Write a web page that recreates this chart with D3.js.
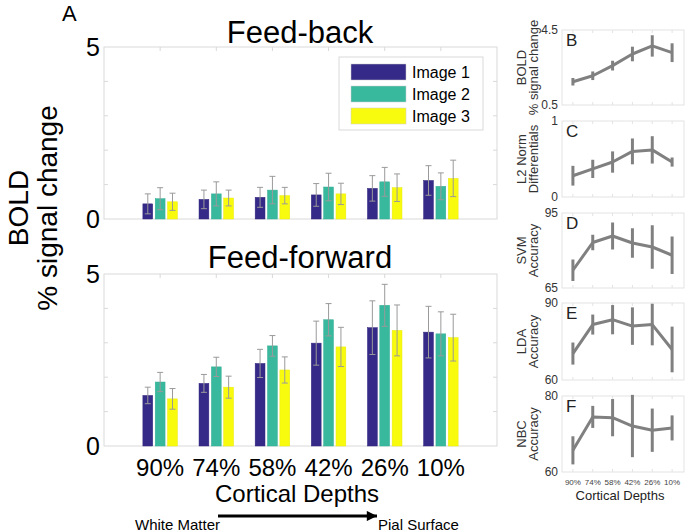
<!DOCTYPE html>
<html>
<head>
<meta charset="utf-8">
<script src="https://cdn.jsdelivr.net/npm/d3@7"></script>
<style>
  body { margin: 0; background: #fff; }
  svg { display: block; font-family: "Liberation Sans", Arial, sans-serif; }
</style>
</head>
<body>
<svg id="chart" width="685" height="532"></svg>
<script>
const depths = ['90%', '74%', '58%', '42%', '26%', '10%'];
const images = ['Image 1', 'Image 2', 'Image 3'];
const colors = ['#352a87', '#38b99e', '#f9fb0e'];

// feed-back means / sem, one row per image
const fbMean = [
    [0.44, 0.57, 0.63, 0.70, 0.89, 1.12],
    [0.59, 0.73, 0.84, 0.93, 1.08, 0.95],
    [0.50, 0.61, 0.68, 0.73, 0.91, 1.18]
];
const fbErr = [
    [0.29, 0.27, 0.29, 0.33, 0.37, 0.43],
    [0.32, 0.35, 0.40, 0.40, 0.42, 0.39],
    [0.25, 0.23, 0.24, 0.31, 0.40, 0.53]
];
const ffMean = [
    [1.47, 1.82, 2.40, 2.99, 3.44, 3.31],
    [1.86, 2.30, 2.91, 3.67, 4.09, 3.26],
    [1.37, 1.71, 2.21, 2.88, 3.36, 3.15]
];
const ffErr = [
    [0.24, 0.26, 0.41, 0.64, 0.78, 0.75],
    [0.28, 0.28, 0.30, 0.47, 0.61, 0.64],
    [0.30, 0.32, 0.38, 0.57, 0.74, 0.68]
];

// small panels on the right
const boldMean = [1.74, 2.06, 2.60, 3.22, 3.65, 3.29];
const boldErr = [0.20, 0.23, 0.26, 0.39, 0.57, 0.50];
const l2Mean = [0.28, 0.37, 0.46, 0.60, 0.62, 0.46];
const l2Err = [0.13, 0.12, 0.14, 0.17, 0.18, 0.06];
const svmMean = [72.1, 83.2, 85.8, 83.0, 81.4, 78.1];
const svmErr = [4.3, 3.1, 5.4, 5.9, 8.7, 7.5];
const ldaMean = [70.3, 81.6, 83.5, 81.0, 81.6, 71.9];
const ldaErr = [4.3, 3.9, 5.7, 7.3, 8.1, 8.9];
const nbcMean = [65.7, 74.5, 74.3, 72.1, 71.0, 71.6];
const nbcErr = [3.7, 2.9, 4.9, 8.2, 5.7, 3.3];

const svg = d3.select('#chart');
const boxColor = '#d9d9d9';

// ---- left bar panels ----
const x = d3.scaleLinear().domain([0, 7]).range([104, 497]);
const barW = 0.175, barOff = 0.22;

function barPanel(top, bottom, means, errs, title, titleY) {
    const y = d3.scaleLinear().domain([0, 5]).range([bottom, top]);
    const g = svg.append('g');

    g.append('rect')
        .attr('x', x(0)).attr('y', top)
        .attr('width', x(7) - x(0)).attr('height', bottom - top)
        .attr('fill', 'none').attr('stroke', boxColor);

    const yt = d3.range(1, 5);
    g.selectAll('.ytl').data(yt).enter().append('line')
        .attr('x1', x(0)).attr('x2', x(0) + 4)
        .attr('y1', d => y(d)).attr('y2', d => y(d))
        .attr('stroke', boxColor);
    g.selectAll('.ytr').data(yt).enter().append('line')
        .attr('x1', x(7)).attr('x2', x(7) - 4)
        .attr('y1', d => y(d)).attr('y2', d => y(d))
        .attr('stroke', boxColor);
    const xt = d3.range(1, 7);
    g.selectAll('.xtt').data(xt).enter().append('line')
        .attr('x1', d => x(d)).attr('x2', d => x(d))
        .attr('y1', top).attr('y2', top + 4)
        .attr('stroke', boxColor);

    g.selectAll('.ylab').data([0, 5]).enter().append('text')
        .attr('x', 100).attr('y', d => y(d))
        .attr('dy', '0.36em')
        .attr('text-anchor', 'end')
        .attr('font-size', 25)
        .text(d => d);

    means.forEach((row, s) => {
        const gs = g.append('g');
        gs.selectAll('rect').data(row).enter().append('rect')
            .attr('x', (d, i) => x(i + 1 + (s - 1) * barOff - barW / 2))
            .attr('width', x(barW) - x(0))
            .attr('y', d => y(d))
            .attr('height', d => y(0) - y(d))
            .attr('fill', colors[s])
            .attr('stroke', d3.color(colors[s]).darker(0.2))
            .attr('stroke-width', 0.5);
        const cx = i => x(i + 1 + (s - 1) * barOff);
        gs.selectAll('.eb').data(row).enter().append('path')
            .attr('d', (d, i) => {
                const e = errs[s][i], c = cx(i);
                return `M${c},${y(d - e)}V${y(d + e)}M${c - 3},${y(d - e)}H${c + 3}M${c - 3},${y(d + e)}H${c + 3}`;
            })
            .attr('fill', 'none').attr('stroke', '#9a9a9a').attr('stroke-width', 1);
    });

    g.append('text')
        .attr('x', 300).attr('y', titleY)
        .attr('text-anchor', 'middle')
        .attr('font-size', 31)
        .text(title);
    return y;
}

barPanel(47, 219, fbMean, fbErr, 'Feed-back', 43);
barPanel(274, 446, ffMean, ffErr, 'Feed-forward', 268);

// legend
const leg = svg.append('g');
leg.append('rect')
    .attr('x', 339).attr('y', 57).attr('width', 144).attr('height', 73)
    .attr('fill', '#fff').attr('stroke', boxColor);
images.forEach((name, i) => {
    leg.append('rect')
        .attr('x', 351).attr('y', 64 + i * 22).attr('width', 55).attr('height', 16)
        .attr('fill', colors[i]).attr('stroke', '#ccc').attr('stroke-width', 0.5);
    leg.append('text')
        .attr('x', 412).attr('y', 72 + i * 22).attr('dy', '0.36em')
        .attr('font-size', 16)
        .text(name);
});

// x tick labels + axis title
svg.append('g').selectAll('text').data(depths).enter().append('text')
    .attr('x', (d, i) => x(i + 1)).attr('y', 476)
    .attr('text-anchor', 'middle').attr('font-size', 24)
    .text(d => d);
svg.append('text')
    .attr('x', 297).attr('y', 502)
    .attr('text-anchor', 'middle').attr('font-size', 24)
    .text('Cortical Depths');

// y axis title
const yt = svg.append('text')
    .attr('transform', 'translate(32,208) rotate(-90)')
    .attr('text-anchor', 'middle').attr('font-size', 28);
yt.append('tspan').attr('x', 0).attr('dy', '-0.15em').text('BOLD');
yt.append('tspan').attr('x', 0).attr('dy', '1.04em').text('% signal change');

svg.append('text').attr('x', 62).attr('y', 21).attr('font-size', 22).text('A');

// arrow
svg.append('defs').append('marker')
    .attr('id', 'ah').attr('viewBox', '0 0 10 10')
    .attr('refX', 10).attr('refY', 5)
    .attr('markerWidth', 4).attr('markerHeight', 3.4)
    .attr('markerUnits', 'strokeWidth')
    .attr('orient', 'auto')
    .append('path').attr('d', 'M0,0L10,5L0,10Z').attr('fill', '#000');
svg.append('line')
    .attr('x1', 218).attr('x2', 377).attr('y1', 516).attr('y2', 516)
    .attr('stroke', '#000').attr('stroke-width', 3)
    .attr('marker-end', 'url(#ah)');
svg.append('text').attr('x', 135).attr('y', 530).attr('font-size', 15).text('White Matter');
svg.append('text').attr('x', 378).attr('y', 530).attr('font-size', 15).text('Pial Surface');

// ---- right line panels ----
const xs = d3.scaleLinear().domain([0.45, 6.6]).range([562, 684]);

function linePanel(top, bottom, dom, means, errs, letter, label1, label2) {
    const y = d3.scaleLinear().domain(dom).range([bottom, top]);
    const g = svg.append('g');
    g.append('rect')
        .attr('x', xs(0.45)).attr('y', top)
        .attr('width', xs(6.6) - xs(0.45)).attr('height', bottom - top)
        .attr('fill', 'none').attr('stroke', '#e3e3e3');
    g.selectAll('.xt').data(d3.range(1, 7)).enter().append('path')
        .attr('d', d => `M${xs(d)},${top}v3M${xs(d)},${bottom}v-3`)
        .attr('stroke', '#e3e3e3');
    g.selectAll('.yl').data(dom).enter().append('text')
        .attr('x', 558).attr('y', d => y(d)).attr('dy', '0.36em')
        .attr('text-anchor', 'end').attr('font-size', 12).attr('fill', '#333')
        .text(d => d);
    g.append('text').attr('x', 566).attr('y', top + 16)
        .attr('font-size', 17).attr('fill', '#222').text(letter);

    const line = d3.line().x((d, i) => xs(i + 1)).y(d => y(d));
    g.append('path').datum(means)
        .attr('d', line).attr('fill', 'none')
        .attr('stroke', '#808080').attr('stroke-width', 3)
        .attr('stroke-linejoin', 'round');
    g.selectAll('.eb').data(means).enter().append('line')
        .attr('x1', (d, i) => xs(i + 1)).attr('x2', (d, i) => xs(i + 1))
        .attr('y1', (d, i) => y(d - errs[i])).attr('y2', (d, i) => y(d + errs[i]))
        .attr('stroke', '#808080').attr('stroke-width', 3);

    const lab = g.append('text')
        .attr('transform', `translate(528,${(top + bottom) / 2}) rotate(-90)`)
        .attr('text-anchor', 'middle').attr('font-size', 13).attr('fill', '#333');
    lab.append('tspan').attr('x', 0).attr('dy', '-0.15em').text(label1);
    lab.append('tspan').attr('x', 0).attr('dy', '0.95em').text(label2);
}

linePanel(30, 105, [0.5, 4.5], boldMean, boldErr, 'B', 'BOLD', '% signal change');
linePanel(121, 197, [0, 1], l2Mean, l2Err, 'C', 'L2 Norm', 'Differentials');
linePanel(213, 288, [65, 95], svmMean, svmErr, 'D', 'SVM', 'Accuracy');
linePanel(303, 380, [60, 90], ldaMean, ldaErr, 'E', 'LDA', 'Accuracy');
linePanel(396, 472, [60, 80], nbcMean, nbcErr, 'F', 'NBC', 'Accuracy');

svg.append('g').selectAll('text').data(depths).enter().append('text')
    .attr('x', (d, i) => xs(i + 1)).attr('y', 485)
    .attr('text-anchor', 'middle').attr('font-size', 8).attr('fill', '#444')
    .text(d => d);
svg.append('text')
    .attr('x', 620).attr('y', 500)
    .attr('text-anchor', 'middle').attr('font-size', 13).attr('fill', '#222')
    .text('Cortical Depths');
</script>
</body>
</html>
